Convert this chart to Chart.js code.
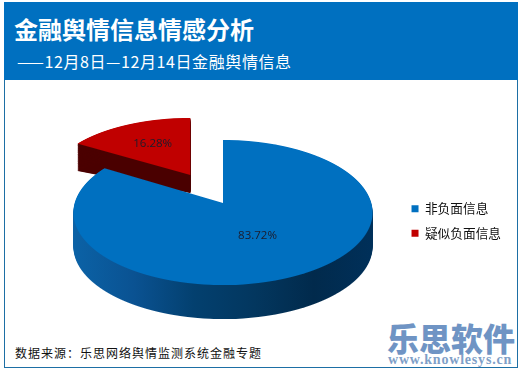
<!DOCTYPE html>
<html>
<head>
<meta charset="utf-8">
<script src="https://cdn.jsdelivr.net/npm/chart.js@4/dist/chart.umd.min.js"></script>
<style>
  html, body { margin: 0; padding: 0; background: #fff; }
  body { width: 521px; height: 370px; position: relative; overflow: hidden; font-family: "Noto Sans CJK SC", sans-serif; }
  #frame { position: absolute; left: 4px; top: 2px; width: 512px; height: 364px; border: 1px solid #1d6fa5; }
  #head { position: absolute; left: 4px; top: 2px; width: 514px; height: 78px; background: #0070c0; color: #fff; }
  #title { position: absolute; left: 10px; top: 9px; font-size: 24px; font-weight: 700; line-height: 36px; white-space: nowrap; }
  #sub { position: absolute; left: 13px; top: 47px; font-size: 16px; letter-spacing: 0.6px; line-height: 24px; white-space: nowrap; }
  #source { position: absolute; left: 15px; top: 344px; font-size: 12px; letter-spacing: 1px; line-height: 18px; color: #111; white-space: nowrap; }
  #brand { position: absolute; left: 387px; top: 317px; font-size: 32px; font-weight: 900; line-height: 40px; color: #6f94c4; white-space: nowrap; }
  #url { position: absolute; left: 388px; top: 353px; font-family: "Liberation Serif", serif; font-size: 14px; font-weight: 700; letter-spacing: 0.8px; line-height: 14px; color: #7f9fc8; white-space: nowrap; }
  #wrap { position: absolute; left: 0; top: 0; width: 521px; height: 370px; }
</style>
</head>
<body>
<div id="frame"></div>
<div id="head">
  <div id="title">金融舆情信息情感分析</div>
  <div id="sub">——12月8日—12月14日金融舆情信息</div>
</div>
<div id="source">数据来源：乐思网络舆情监测系统金融专题</div>
<div id="brand">乐思软件</div>
<div id="url">www.knowlesys.cn</div>
<div id="wrap"><canvas id="chart" width="521" height="370"></canvas></div>

<script>
// chart data
const categories = ['非负面信息', '疑似负面信息'];
const shares = [83.72, 16.28];
const topColors = ['#0070c0', '#c00000'];

// perspective of the pie plane, in page pixels
const view = { x0: 223, y0: 203, a: 71.3, b: 148.3, k: 0.131 };
// explode distance of each slice, in radii
const explode = [0, 0.475];
// lower rim of each slice (same projection, other origin and height)
const rims = [{ y0: 237, a: 71.3, layers: 34 }, { y0: 212.6, a: 50, layers: 70 }];
const sideRed = '#4a0000';
const sideBlueStops = ['#0b62a6', '#0a5292', '#03406f', '#03375f', '#012a4c', '#00305a'];
const labelNudge = [[-4, 0], [-5, -5]];

// where the tip of an exploded slice lands, in radii
function sliceShift(arc, index) {
  const mid = arc.startAngle + arc.circumference / 2;
  return { x: Math.cos(mid) * explode[index], v: Math.sin(mid) * explode[index] };
}

function tipX(shift) {
  return view.x0 + view.b * shift.x / (1 - view.k * shift.v);
}

// Row by row projection, canvas transforms are only affine
function drawSlice(ctx, arc, index, y0, a, color) {
  const r = arc.outerRadius;
  const shift = sliceShift(arc, index);
  const vTop = shift.v - 1;
  const vBottom = index === 0 ? shift.v + 1 : shift.v + 0.05;
  const rowOf = v => y0 + a * v / (1 - view.k * v);
  const from = Math.floor(rowOf(vTop)) - 1;
  const to = Math.ceil(rowOf(vBottom)) + 1;

  const painted = Object.create(arc);
  painted.options = { ...arc.options, backgroundColor: color };

  for (let row = from; row <= to; row++) {
    const t = (row + 0.5 - y0) / a;
    const v = t / (1 + view.k * t);
    const den = 1 - view.k * v;
    const sx = view.b / (den * r);
    const sy = a / (den * den * r);
    ctx.save();
    ctx.beginPath();
    ctx.rect(0, row, 521, 1);
    ctx.clip();
    ctx.setTransform(sx, 0, 0, sy, tipX(shift) - sx * arc.x, row + 0.5 - sy * (arc.y + (v - shift.v) * r));
    arc.draw.call(painted, ctx);
    ctx.restore();
  }
}

function drawSide(ctx, arc, index, color) {
  const rim = rims[index];
  for (let i = rim.layers; i >= 1; i--) {
    const f = i / rim.layers;
    drawSlice(ctx, arc, index, view.y0 + (rim.y0 - view.y0) * f, view.a + (rim.a - view.a) * f, color);
  }
}

const pie3d = {
  id: 'pie3d',
  afterLayout(chart) {
    // legend sits lower than its default centre
    chart.legend.top += 36;
    chart.legend.bottom += 36;
  },
  beforeDatasetsDraw(chart) {
    const ctx = chart.ctx;
    const arcs = chart.getDatasetMeta(0).data;

    // blue side wall, shaded across its width
    ctx.save();
    drawSide(ctx, arcs[0], 0, '#000');
    ctx.globalCompositeOperation = 'source-atop';
    const shade = ctx.createLinearGradient(74, 0, 374, 0);
    sideBlueStops.forEach((c, i) => shade.addColorStop(i / (sideBlueStops.length - 1), c));
    ctx.fillStyle = shade;
    ctx.fillRect(60, 130, 330, 200);
    ctx.globalCompositeOperation = 'source-over';
    drawSlice(ctx, arcs[0], 0, view.y0, view.a, topColors[0]);

    // red slice goes behind the blue one
    ctx.globalCompositeOperation = 'destination-over';
    drawSlice(ctx, arcs[1], 1, view.y0, view.a, topColors[1]);
    drawSide(ctx, arcs[1], 1, sideRed);
    ctx.restore();

    // percentage labels
    ctx.save();
    ctx.font = '11.5px "Open Sans", sans-serif';
    ctx.fillStyle = '#1c1c2c';
    ctx.textAlign = 'center';
    ctx.textBaseline = 'middle';
    arcs.forEach((arc, i) => {
      const c = arc.getCenterPoint();
      const shift = sliceShift(arc, i);
      const x = (c.x - arc.x) / arc.outerRadius;
      const v = (c.y - arc.y) / arc.outerRadius + shift.v;
      const den = 1 - view.k * v;
      ctx.fillText(shares[i].toFixed(2) + '%',
        tipX(shift) + view.b * x / den + labelNudge[i][0],
        view.y0 + view.a * v / den + labelNudge[i][1]);
    });
    ctx.restore();
    return false;
  }
};

new Chart(document.getElementById('chart'), {
  type: 'pie',
  data: {
    labels: categories,
    datasets: [{
      data: shares,
      backgroundColor: topColors,
      borderWidth: 0
    }]
  },
  options: {
    responsive: false,
    animation: false,
    layout: { padding: { right: 10 } },
    plugins: {
      tooltip: { enabled: false },
      legend: {
        position: 'right',
        labels: {
          boxWidth: 7,
          boxHeight: 7,
          padding: 12,
          color: '#111',
          font: { family: '"Noto Sans CJK SC", sans-serif', size: 12.7 }
        }
      }
    }
  },
  plugins: [pie3d]
});
</script>
</body>
</html>
